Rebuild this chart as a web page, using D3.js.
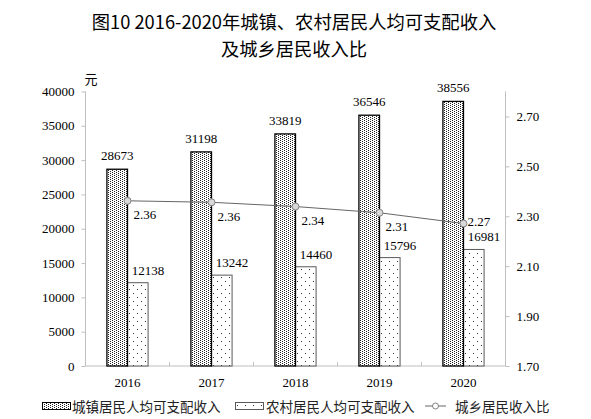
<!DOCTYPE html>
<html>
<head>
<meta charset="utf-8">
<script src="https://cdn.jsdelivr.net/npm/d3@7"></script>
<style>
  body { margin: 0; background: #fff; }
  svg { display: block; }
  .cjk { font-family: "Noto Sans CJK SC", sans-serif; }
  .num { font-family: "Liberation Serif", "Times New Roman", serif; font-size: 13px; fill: #000; }
</style>
</head>
<body>
<svg id="chart" width="591" height="419"></svg>
<script>
// chart data
const years = ["2016", "2017", "2018", "2019", "2020"];
const urbanIncome = [28673, 31198, 33819, 36546, 38556];
const ruralIncome = [12138, 13242, 14460, 15796, 16981];
const incomeRatio = [2.362, 2.356, 2.339, 2.314, 2.271];
const leftTicks = [0, 5000, 10000, 15000, 20000, 25000, 30000, 35000, 40000];
const rightTicks = [1.70, 1.90, 2.10, 2.30, 2.50, 2.70];
const legendLabels = ["城镇居民人均可支配收入", "农村居民人均可支配收入", "城乡居民收入比"];

const svg = d3.select("#chart");
const plot = { left: 85.5, right: 505.5, top: 91.5, bottom: 366 };

const x = d3.scaleBand().domain(years).range([plot.left, plot.right]).padding(0);
const y = d3.scaleLinear().domain([0, 40000]).range([plot.bottom, plot.top]);
const y2 = d3.scaleLinear().domain([1.7, 2.8]).range([plot.bottom, plot.top]);
const barW = x.bandwidth() * 0.245;
const axisColor = "#bfbfbf";

// fill patterns
const defs = svg.append("defs");
const dense = defs.append("pattern").attr("id", "dense")
  .attr("patternUnits", "userSpaceOnUse").attr("width", 4).attr("height", 2);
dense.append("rect").attr("width", 4).attr("height", 2).attr("fill", "#fff");
[[0, 0], [2, 1]].forEach(p => dense.append("rect")
  .attr("x", p[0]).attr("y", p[1]).attr("width", 1).attr("height", 1)
  .attr("fill", "#222").attr("shape-rendering", "crispEdges"));

const sparse = defs.append("pattern").attr("id", "sparse")
  .attr("patternUnits", "userSpaceOnUse").attr("width", 8).attr("height", 8);
sparse.append("rect").attr("width", 8).attr("height", 8).attr("fill", "#fff");
[[1, 1], [5, 5]].forEach(p => sparse.append("rect")
  .attr("x", p[0]).attr("y", p[1]).attr("width", 1).attr("height", 1)
  .attr("fill", "#333").attr("shape-rendering", "crispEdges"));

// title
const title = svg.append("text").attr("class", "cjk")
  .attr("text-anchor", "middle").attr("font-size", "18.3px").attr("fill", "#000");
title.append("tspan").attr("x", 294).attr("y", 29).text("图10 2016-2020年城镇、农村居民人均可支配收入");
title.append("tspan").attr("x", 294).attr("y", 55.5).text("及城乡居民收入比");

svg.append("text").attr("class", "cjk").attr("x", 91).attr("y", 84)
  .attr("text-anchor", "middle").attr("font-size", "13px").text("元");

// left axis
const leftAxis = svg.append("g").attr("transform", `translate(${plot.left},0)`)
  .call(d3.axisLeft(y).tickValues(leftTicks).tickSize(4).tickPadding(7).tickFormat(d3.format("d")));
// right axis
const rightAxis = svg.append("g").attr("transform", `translate(${plot.right},0)`)
  .call(d3.axisRight(y2).tickValues(rightTicks).tickSize(4).tickPadding(7).tickFormat(d3.format(".2f")));
[leftAxis, rightAxis].forEach(g => {
  g.select(".domain").attr("stroke", axisColor).attr("d",
    `M0,${plot.top}V${plot.bottom}`);
  g.selectAll(".tick line").attr("stroke", axisColor);
  g.selectAll(".tick text").attr("class", "num").attr("font-size", null).attr("font-family", null);
});

// bottom axis with category separators
const bottom = svg.append("g").attr("transform", `translate(0,${plot.bottom})`);
bottom.append("line").attr("x1", plot.left).attr("x2", plot.right)
  .attr("stroke", axisColor);
bottom.selectAll(".sep").data(years.slice(1)).join("line")
  .attr("x1", d => x(d)).attr("x2", d => x(d)).attr("y1", 0).attr("y2", -4)
  .attr("stroke", axisColor);
bottom.selectAll(".yr").data(years).join("text").attr("class", "num")
  .attr("x", d => x(d) + x.bandwidth() / 2).attr("y", 20.5)
  .attr("text-anchor", "middle").text(d => d);

const centre = d => x(d) + x.bandwidth() / 2;

// rural bars
svg.append("g").selectAll("rect").data(years).join("rect")
  .attr("x", d => centre(d)).attr("width", barW)
  .attr("y", (d, i) => y(ruralIncome[i]))
  .attr("height", (d, i) => y(0) - y(ruralIncome[i]))
  .attr("fill", "url(#sparse)").attr("stroke", "#595959").attr("stroke-width", 1);

// urban bars
svg.append("g").selectAll("rect").data(years).join("rect")
  .attr("x", d => centre(d) - barW).attr("width", barW)
  .attr("y", (d, i) => y(urbanIncome[i]))
  .attr("height", (d, i) => y(0) - y(urbanIncome[i]))
  .attr("fill", "url(#dense)").attr("stroke", "#000").attr("stroke-width", 1.3);

// bar labels
svg.append("g").selectAll("text").data(years).join("text").attr("class", "num")
  .attr("x", d => centre(d) - barW / 2)
  .attr("y", (d, i) => y(urbanIncome[i]) - 9)
  .attr("text-anchor", "middle").text((d, i) => urbanIncome[i]);
svg.append("g").selectAll("text").data(years).join("text").attr("class", "num")
  .attr("x", d => centre(d) + barW)
  .attr("y", (d, i) => y(ruralIncome[i]) - 8)
  .attr("text-anchor", "middle").text((d, i) => ruralIncome[i]);

// ratio line
const line = d3.line().x((d, i) => centre(years[i])).y(d => y2(d));
svg.append("path").datum(incomeRatio).attr("d", line)
  .attr("fill", "none").attr("stroke", "#666").attr("stroke-width", 1);
svg.append("g").selectAll("circle").data(incomeRatio).join("circle")
  .attr("cx", (d, i) => centre(years[i])).attr("cy", d => y2(d)).attr("r", 3.5)
  .attr("fill", "#d9d9d9").attr("stroke", "#808080").attr("stroke-width", 1);
const last = incomeRatio.length - 1;
// last label sits to the right of its point, the rest below-right
svg.append("g").selectAll("text").data(incomeRatio).join("text").attr("class", "num")
  .attr("x", (d, i) => centre(years[i]) + (i === last ? 4 : 6))
  .attr("y", (d, i) => y2(d) + (i === last ? 2.5 : 18.5))
  .text(d => d3.format(".2f")(d));

// legend
const lg = svg.append("g");
lg.append("rect").attr("x", 42.5).attr("y", 402.5).attr("width", 28).attr("height", 7)
  .attr("fill", "url(#dense)").attr("stroke", "#000");
lg.append("rect").attr("x", 235.5).attr("y", 402.5).attr("width", 28).attr("height", 7)
  .attr("fill", "url(#sparse)").attr("stroke", "#595959");
lg.append("line").attr("x1", 425).attr("x2", 446).attr("y1", 406).attr("y2", 406)
  .attr("stroke", "#666");
lg.append("circle").attr("cx", 435.5).attr("cy", 406).attr("r", 3)
  .attr("fill", "#fff").attr("stroke", "#808080");
lg.selectAll("text").data(legendLabels).join("text").attr("class", "cjk")
  .attr("x", (d, i) => [72, 266, 455][i]).attr("y", 411.5)
  .attr("font-size", "13.5px").attr("fill", "#222").text(d => d);
</script>
</body>
</html>
